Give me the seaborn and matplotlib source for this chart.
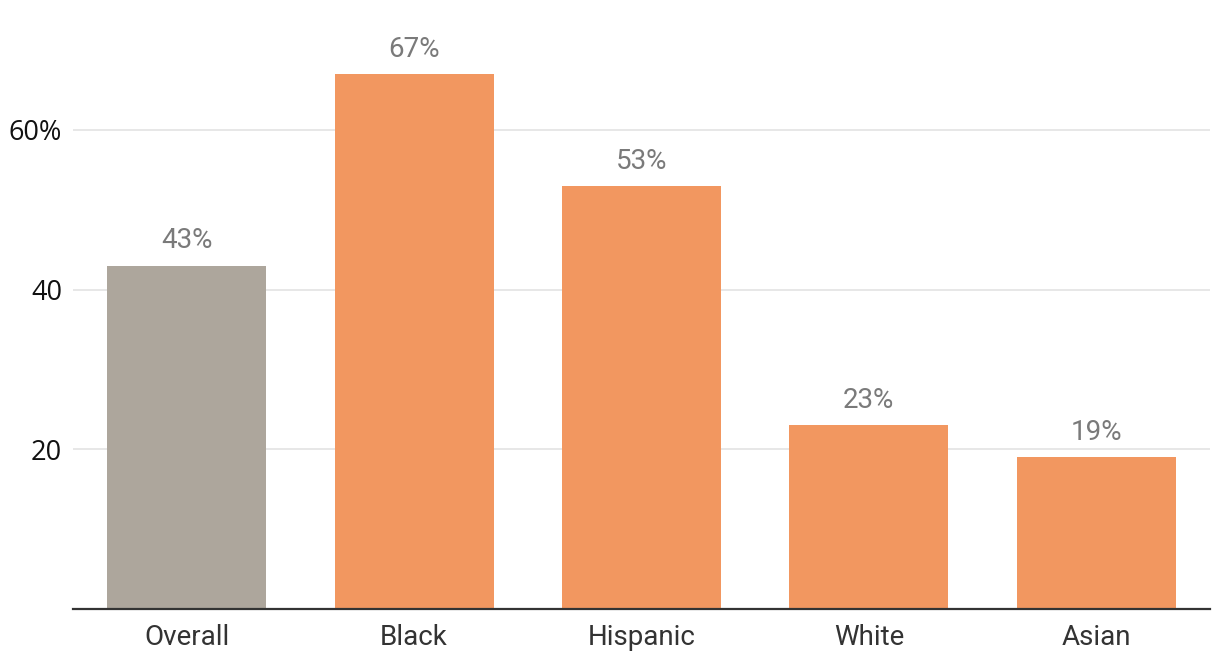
import matplotlib
matplotlib.use("Agg")
import matplotlib.pyplot as plt
import seaborn as sns
import pandas as pd

categories = ["Overall", "Black", "Hispanic", "White", "Asian"]
values = [43, 67, 53, 23, 19]
bar_colors = ["#ADA69C", "#F29760", "#F29760", "#F29760", "#F29760"]
yticks = [20, 40, 60]
ytick_labels = ["20", "40", "60%"]

sns.set_theme(style="white")
plt.rcParams['font.family'] = ['Roboto', 'DejaVu Sans']

df = pd.DataFrame({"cat": categories, "val": values})

fig = plt.figure(figsize=(12.2, 6.68), dpi=100)
ax = fig.add_axes([73/1220, (668-609)/668, (1210-73)/1220, (609-10)/668])

sns.barplot(data=df, x="cat", y="val", hue="cat", palette=bar_colors, legend=False,
            width=0.7, saturation=1, linewidth=0, edgecolor="none", ax=ax, zorder=3)

ax.set_ylim(0, 75)
ax.set_xlim(-0.5, 4.5)
ax.set_yticks(yticks)
ax.set_yticklabels(ytick_labels, fontsize=19.5, color="#111111", family=['Open Sans', 'DejaVu Sans'])
ax.tick_params(axis='y', length=0, pad=8)
ax.tick_params(axis='x', length=0, pad=11, labelsize=20, labelcolor="#333333")
ax.grid(axis='y', color="#E3E3E3", linewidth=1.2, zorder=0)
ax.set_axisbelow(True)
for s in ["top", "right", "left"]:
    ax.spines[s].set_visible(False)
ax.spines["bottom"].set_color("#333333")
ax.spines["bottom"].set_linewidth(1.6)
ax.spines["bottom"].set_zorder(5)
ax.set_xlabel("")
ax.set_ylabel("")

for i, v in enumerate(values):
    ax.annotate(f"{v}%", (i, v), xytext=(0, 8), textcoords="offset points",
                ha="center", va="bottom", fontsize=20, color="#7A7A7A")

fig.savefig("out.png", dpi=100, facecolor="white")
